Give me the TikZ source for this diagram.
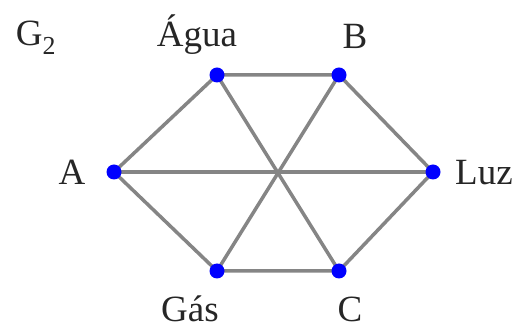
\documentclass[tikz,border=0pt]{standalone}
\usepackage{fontspec}
\setmainfont{Liberation Serif}
\begin{document}
\begin{tikzpicture}[x=1pt,y=1pt,
  vtx/.style={circle,fill=blue,inner sep=0pt,minimum size=15pt},
  edge/.style={draw=black!48,line width=3.5pt},
  lbl/.style={font=\fontsize{37}{40}\selectfont,text=black!85,inner sep=0pt,anchor=base}]
\useasboundingbox (0,0) rectangle (517,329);
\coordinate (pA) at (114,157);
\coordinate (pW) at (217,254);
\coordinate (pB) at (339,254);
\coordinate (pL) at (433,157);
\coordinate (pC) at (339,58);
\coordinate (pG) at (217,58);
\draw[edge] (pA) -- (pW) -- (pB) -- (pL) -- (pC) -- (pG) -- cycle;
\draw[edge] (pA) -- (pL);
\draw[edge] (pW) -- (pC);
\draw[edge] (pB) -- (pG);
\node[vtx] (A) at (pA) {};
\node[vtx] (W) at (pW) {};
\node[vtx] (B) at (pB) {};
\node[vtx] (L) at (pL) {};
\node[vtx] (C) at (pC) {};
\node[vtx] (G) at (pG) {};
\node[lbl] (tG2) at (36,283) {G\textsubscript{2}};
\node[lbl] (tW) at (197,282) {Água};
\node[lbl] (tB) at (355,280) {B};
\node[lbl] (tA) at (72,144) {A};
\node[lbl,anchor=base west] (tL) at (455,144) {Luz};
\node[lbl] (tGas) at (190,7) {Gás};
\node[lbl] (tC) at (350,7) {C};
\end{tikzpicture}
\end{document}
